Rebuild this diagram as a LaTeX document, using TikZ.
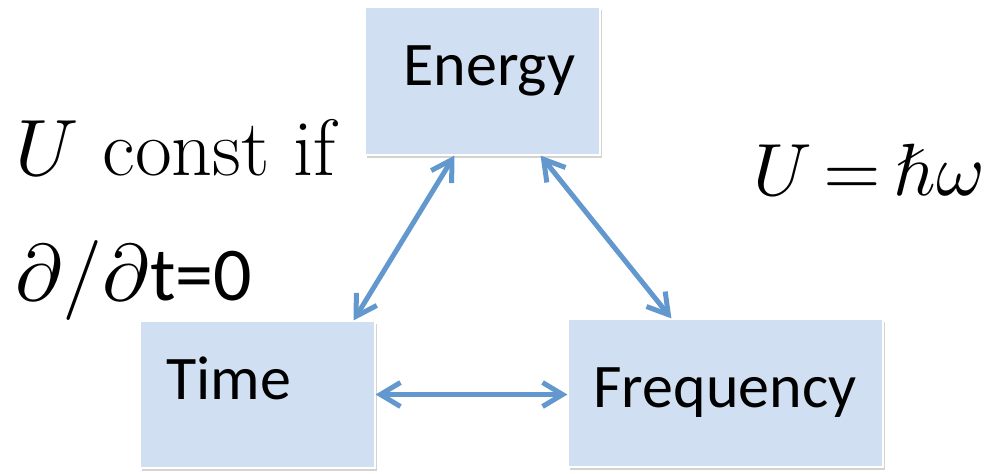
\documentclass[tikz,border=0pt]{standalone}
\usepackage{fontspec}
\usepackage{unicode-math}
\setmathfont{Latin Modern Math}
\newfontfamily\calib{Carlito}
\usetikzlibrary{arrows.meta,shadows}
\definecolor{boxblue}{RGB}{208,224,242}
\definecolor{arrowblue}{RGB}{99,152,206}

\begin{document}
\begin{tikzpicture}[x=0.5pt, y=-0.5pt, inner sep=0pt,
  quantity/.style={rectangle, fill=boxblue, draw=white, line width=0.6pt,
    drop shadow={shadow xshift=1.2pt, shadow yshift=-1.5pt, opacity=0.35}},
  link/.style={arrowblue, line width=2.5pt,
    {Straight Barb[length=10pt, width=12pt, line width=2.5pt]}-{Straight Barb[length=10pt, width=12pt, line width=2.5pt]}},
  word/.style={anchor=base west, font=\calib\fontsize{31}{37}\selectfont}]
\useasboundingbox (0,0) rectangle (992,473);

\node[quantity, minimum width=117.5pt, minimum height=74pt] (energy) at (482.5,81) {};
\node[quantity, minimum width=117.5pt, minimum height=73.5pt] (time) at (257.5,394.5) {};
\node[quantity, minimum width=157.5pt, minimum height=74pt] (freq) at (725.5,393) {};

\node[word] (en) at (403,85) {Energy};
\node[word] (ti) at (166,399) {Time};
\node[word] (fr) at (593,407) {Frequency};

\draw[link] ([xshift=45pt]energy.south west) -- ([xshift=-11pt]time.north east);
\draw[link] ([xshift=-30pt]energy.south east) -- ([xshift=52pt]freq.north west);
\draw[link] (time.east) -- (time.east -| freq.west);

\node[anchor=base west, font=\fontsize{40}{48}\selectfont] (cond) at (15,175) {$U$ const if};
\node[anchor=base west, font=\fontsize{40}{48}\selectfont] (deriv) at (15,300) {$\partial/\partial${\calib\fontsize{38}{46}\selectfont t=0}};
\node[anchor=base west, font=\fontsize{37}{44}\selectfont] (planck) at (753,195) {$U\mskip3mu{=}\mskip3mu\hbar\omega$};
\end{tikzpicture}
\end{document}
